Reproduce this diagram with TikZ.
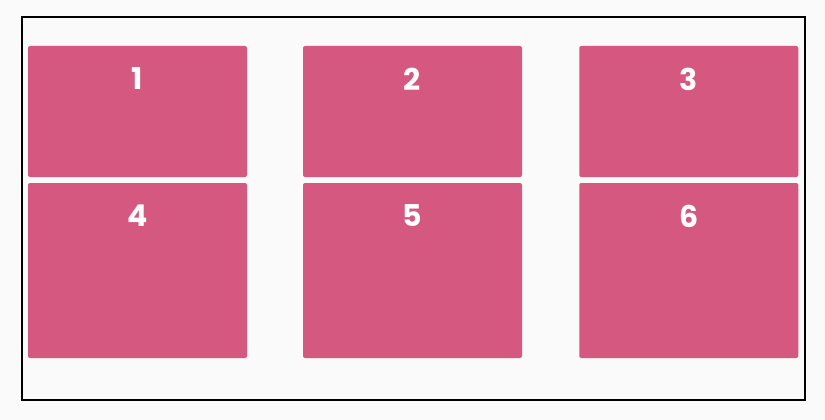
\documentclass[tikz,border=0pt]{standalone}
\usepackage{fontspec}
\setmainfont{Poppins}
\usepackage{tikz}
\usetikzlibrary{positioning}
\definecolor{cellpink}{HTML}{D45880}
\definecolor{pagegray}{HTML}{FAFAFA}

\begin{document}
\begin{tikzpicture}[x=1pt,y=-1pt,
        cell/.style={fill=cellpink, rounded corners=2pt, minimum width=219pt, inner sep=0pt},
        num/.style={text=white, font=\fontsize{30}{30}\selectfont\bfseries, inner sep=0pt}]
        \fill[pagegray] (0,0) rectangle (825,420);
        \useasboundingbox (0,0) rectangle (825,420);
        \draw[line width=2pt] (22,17.5) rectangle (804.5,400);
        \foreach \Cell/\X/\Y/\H in {1/137.5/111.5/131, 2/412.5/111.5/131, 3/688.75/111.5/131,
                4/137.5/270.5/175, 5/412.5/270.5/175, 6/688.75/270.5/175}
        {
        \node[cell, minimum height=\H pt] (c\Cell) at (\X,\Y) {};
        \node[num, below=22pt of c\Cell.north] (n\Cell) {\Cell};
        }
\end{tikzpicture}
\end{document}
